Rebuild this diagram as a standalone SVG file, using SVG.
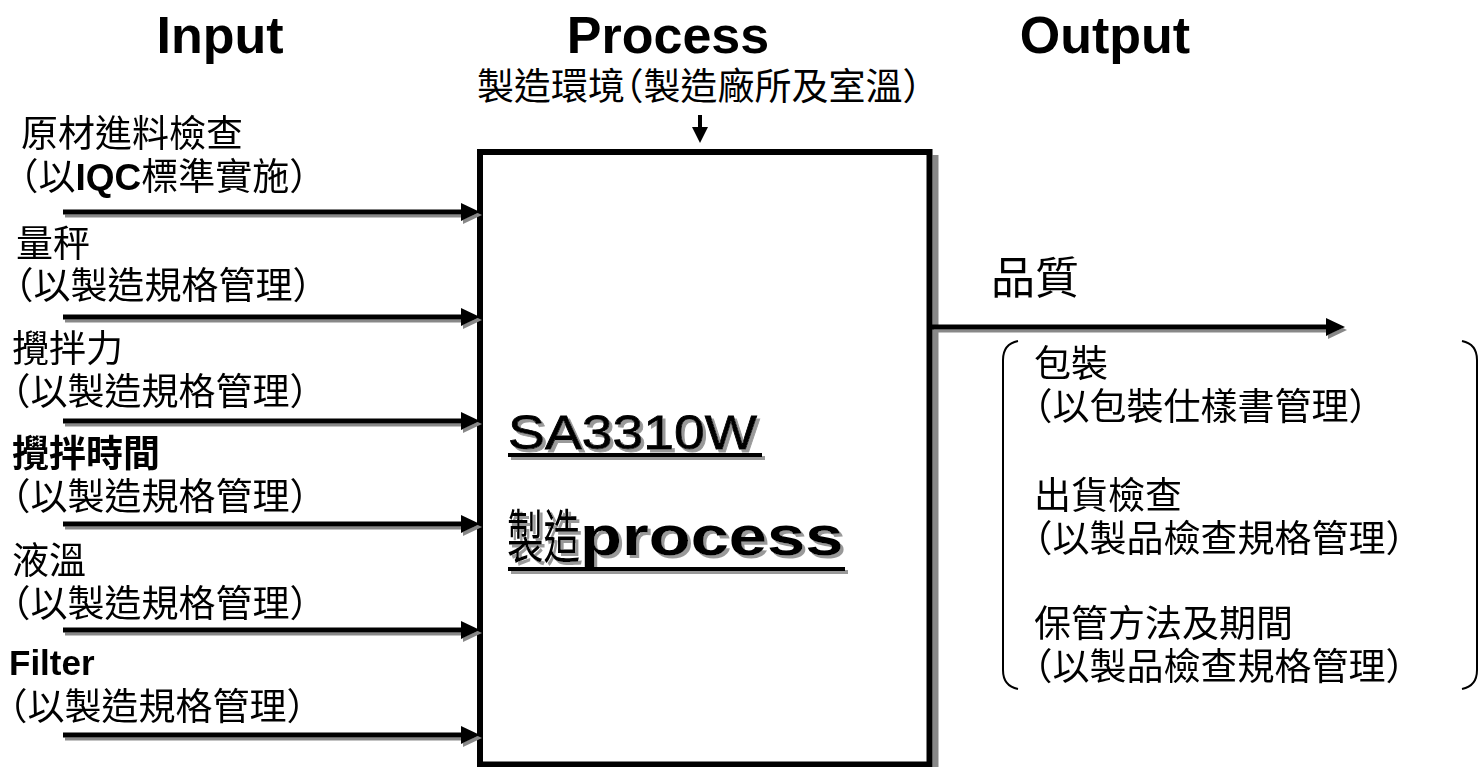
<svg xmlns="http://www.w3.org/2000/svg" width="1478" height="767" viewBox="0 0 1478 767">
  <style>
    .hdr { font-family: "Liberation Sans", Arial, sans-serif; font-weight: bold; font-size: 52px; fill: #000; text-anchor: middle; }
    .cj { font-family: "Liberation Sans", "Noto Sans CJK TC", sans-serif; font-size: 37px; fill: #000; font-feature-settings: "halt"; }
    .b { font-weight: bold; }
    .conn { fill: none; stroke: #000; stroke-width: 5; }
    .box { fill: #fff; stroke: #000; stroke-width: 6; }
    .bracket { fill: none; stroke: #000; stroke-width: 2; }
    .big { font-family: "Liberation Sans", "Noto Sans CJK TC", sans-serif; fill: #000; }
  </style>
  <defs>
    <filter id="shBox" x="-5%" y="-5%" width="115%" height="115%">
      <feDropShadow dx="6" dy="6" stdDeviation="0" flood-color="#888" flood-opacity="1"/>
    </filter>
    <filter id="shArr" x="-5%" y="-50%" width="110%" height="200%">
      <feDropShadow dx="2" dy="3" stdDeviation="0.5" flood-color="#888" flood-opacity="1"/>
    </filter>
    <filter id="shTxt" x="-5%" y="-20%" width="110%" height="140%">
      <feDropShadow dx="3" dy="3" stdDeviation="0.5" flood-color="#999" flood-opacity="1"/>
    </filter>
    <marker id="head" markerUnits="userSpaceOnUse" markerWidth="19" markerHeight="18" viewBox="0 0 19 18" refX="9" refY="9" orient="auto">
      <path d="M0,0 L19,9 L0,18 Z" fill="#000"/>
    </marker>
    <marker id="headSmall" markerUnits="userSpaceOnUse" markerWidth="16" markerHeight="16" viewBox="0 0 16 16" refX="6" refY="8" orient="auto">
      <path d="M0,0 L16,8 L0,16 Z" fill="#000"/>
    </marker>
  </defs>
  <rect width="1478" height="767" fill="#fff"/>

  <g id="headers">
    <text class="hdr" x="220" y="53">Input</text>
    <text class="hdr" x="668" y="53">Process</text>
    <text class="hdr" x="1105" y="53">Output</text>
  </g>

  <g id="env">
    <text class="cj" x="699" y="100" text-anchor="middle">製造環境（製造廠所及室溫）</text>
  </g>

  <g id="process">
    <rect class="box" x="480" y="152" width="449.5" height="612.5" filter="url(#shBox)"/>
    <g filter="url(#shTxt)">
      <text class="big" x="508" y="449" font-size="49" stroke="#000" stroke-width="0.8" textLength="249" lengthAdjust="spacingAndGlyphs">SA3310W</text>
      <rect x="508" y="453" width="254" height="4" fill="#000"/>
      <text class="big" x="0" y="0" font-size="58" transform="translate(507,558) scale(0.63,1)"><tspan>製造</tspan><tspan font-weight="bold" font-size="56" x="116" y="-3" textLength="418" lengthAdjust="spacingAndGlyphs">process</tspan></text>
      <rect x="508" y="567" width="337" height="4" fill="#000"/>
    </g>
  </g>

  <g id="in1"><text class="cj" x="21" y="147">原材進料檢查</text><text class="cj" x="20" y="190">（以<tspan class="b">IQC</tspan>標準實施）</text></g>
  <g id="in2"><text class="cj" x="16" y="257">量秤</text><text class="cj" x="15" y="299">（以製造規格管理）</text></g>
  <g id="in3"><text class="cj" x="12" y="362">攪拌力</text><text class="cj" x="12" y="405">（以製造規格管理）</text></g>
  <g id="in4"><text class="cj b" x="12" y="467">攪拌時間</text><text class="cj" x="12" y="510">（以製造規格管理）</text></g>
  <g id="in5"><text class="cj" x="12" y="574">液溫</text><text class="cj" x="12" y="617">（以製造規格管理）</text></g>
  <g id="in6"><text class="cj b" x="9" y="675" style="font-size:35px">Filter</text><text class="cj" x="9" y="720">（以製造規格管理）</text></g>

  <g id="quality">
    <text class="cj" x="991" y="294" style="font-size:44px">品質</text>
  </g>

  <g id="outputs">
    <path class="bracket" d="M1018,341 Q1003,344 1003,360 L1003,670 Q1003,686 1018,689"/>
    <path class="bracket" d="M1462,341 Q1477,344 1477,360 L1477,670 Q1477,686 1462,689"/>
    <text class="cj" x="1034" y="377">包裝</text>
    <text class="cj" x="1034" y="420">（以包裝仕樣書管理）</text>
    <text class="cj" x="1034" y="509">出貨檢查</text>
    <text class="cj" x="1034" y="552">（以製品檢查規格管理）</text>
    <text class="cj" x="1034" y="637">保管方法及期間</text>
    <text class="cj" x="1034" y="680">（以製品檢查規格管理）</text>
  </g>

  <g id="connectors">
    <g filter="url(#shArr)">
      <path class="conn" d="M63,212 H470" marker-end="url(#head)"/>
      <path class="conn" d="M63,317 H470" marker-end="url(#head)"/>
      <path class="conn" d="M63,421 H470" marker-end="url(#head)"/>
      <path class="conn" d="M63,524 H470" marker-end="url(#head)"/>
      <path class="conn" d="M63,630 H470" marker-end="url(#head)"/>
      <path class="conn" d="M63,735 H470" marker-end="url(#head)"/>
      <path class="conn" d="M932,327 H1335" marker-end="url(#head)"/>
    </g>
    <path class="conn" style="stroke-width:4" d="M700,115 V133" marker-end="url(#headSmall)"/>
  </g>
</svg>
